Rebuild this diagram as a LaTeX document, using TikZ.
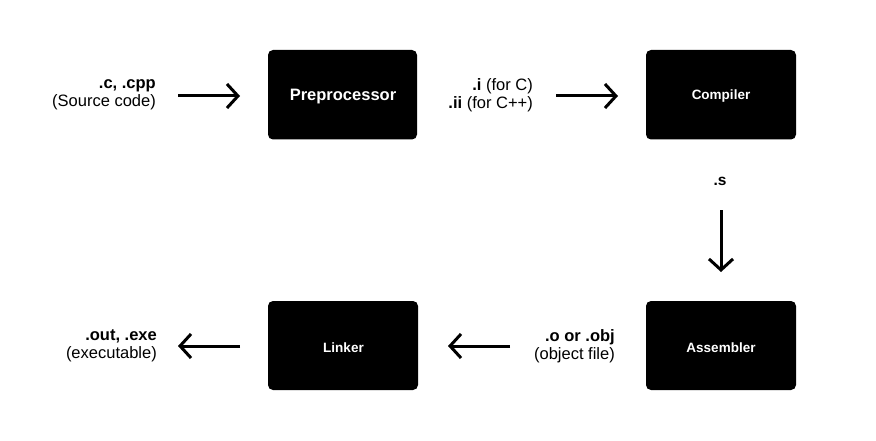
\documentclass[tikz,border=0pt]{standalone}
\usepackage{fontspec}
\setmainfont{Liberation Sans}
\usetikzlibrary{arrows.meta}
\begin{document}
\begin{tikzpicture}[x=1pt,y=-1pt,
  box/.style={fill=black,rounded corners=5pt,inner sep=0pt},
  boxlbl/.style={text=white,font=\bfseries\fontsize{13.5}{15}\selectfont},
  lbl/.style={align=right,font=\fontsize{16.5}{18.5}\selectfont,inner sep=0pt},
  arr/.style={line width=3pt,-{Straight Barb[length=11pt,width=24pt,line width=3pt]}}]
\useasboundingbox (0,0) rectangle (876,441);
% boxes
\fill[box] (268,50) rectangle (417,139.5);
\node[boxlbl,font=\bfseries\fontsize{16.5}{18}\selectfont] (pre) at (343,96.5) {Preprocessor};
\fill[box] (646,50) rectangle (796,139.5);
\node[boxlbl] (comp) at (721,96.5) {Compiler};
\fill[box] (646,301) rectangle (796,390);
\node[boxlbl] (asm) at (721,347.5) {Assembler};
\fill[box] (268,301) rectangle (418,390);
\node[boxlbl] (link) at (343.5,347.5) {Linker};
% labels
\node[lbl,anchor=east] (src) at (156,95) {\textbf{.c, .cpp}\\(Source code)};
\node[lbl,anchor=east] (ii) at (533,95) {\textbf{.i} (for C)\\\textbf{.ii} (for C++)};
\node[lbl,font=\bfseries\fontsize{15.5}{18}\selectfont] (s) at (720,181) {.s};
\node[lbl,anchor=east] (out) at (157,346) {\textbf{.out, .exe}\\(executable)};
\node[lbl,anchor=east] (obj) at (615,346) {\textbf{.o or .obj}\\(object file)};
% arrow endpoints
\coordinate (a1s) at (178,96); \coordinate (a1e) at (240,96);
\coordinate (a2s) at (556,96); \coordinate (a2e) at (618,96);
\coordinate (a3s) at (721,210); \coordinate (a3e) at (721,272);
\coordinate (a4s) at (510,346); \coordinate (a4e) at (448,346);
\coordinate (a5s) at (240,346); \coordinate (a5e) at (178,346);
\draw[arr] (a1s) -- (a1e);
\draw[arr] (a2s) -- (a2e);
\draw[arr] (a3s) -- (a3e);
\draw[arr] (a4s) -- (a4e);
\draw[arr] (a5s) -- (a5e);
\end{tikzpicture}
\end{document}
